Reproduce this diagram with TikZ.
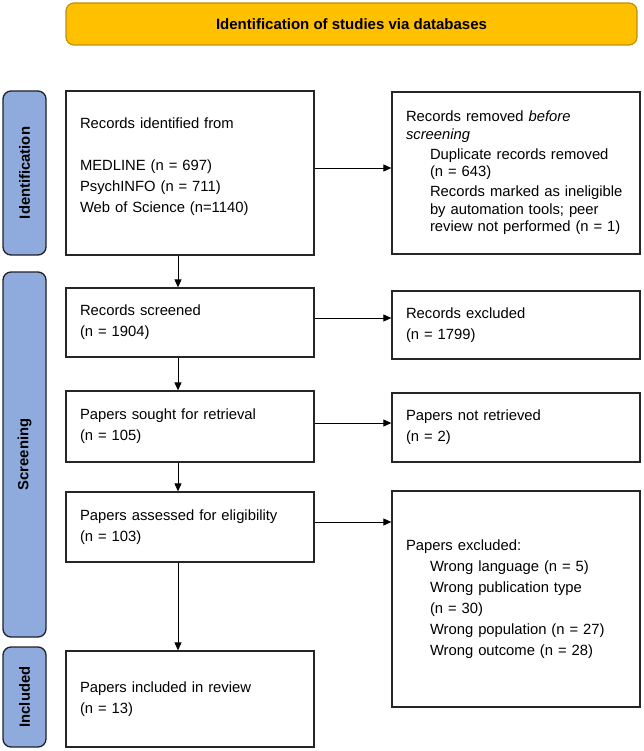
\documentclass[tikz,border=0pt]{standalone}
\usepackage{fontspec}
\setmainfont{Liberation Sans}
\usetikzlibrary{arrows.meta, positioning, calc}
\definecolor{prgold}{RGB}{255, 192, 0}
\definecolor{prgoldline}{RGB}{190, 145, 20}
\definecolor{prblue}{RGB}{143, 170, 220}
\definecolor{prline}{RGB}{30, 34, 40}
\newcommand{\prindent}{\hspace*{24pt}}

\begin{document}
\begin{tikzpicture}[x=1pt, y=-1pt, >={Triangle[length=8pt, width=7pt]},
  stagebar/.style={draw=prline, fill=prblue, line width=1.3pt,
    rounded corners=8pt, rotate=90, minimum height=43pt, inner sep=0pt,
    font=\fontsize{14.8}{17}\selectfont\bfseries},
  flowbox/.style={draw=black!85, line width=1.3pt, align=left,
    inner xsep=14pt, inner ysep=0pt, minimum width=248pt, text width=220pt,
    font=\fontsize{14.8}{21}\selectfont},
  flow/.style={->, line width=0.9pt}]

  \useasboundingbox (0,0) rectangle (644,751);

  % --- header ---
  \node[draw=prgoldline, fill=prgold, line width=1.2pt, rounded corners=8pt,
    minimum width=571pt, minimum height=42pt,
    font=\fontsize{15}{18}\selectfont\bfseries] (banner) at (351.5,24)
    {Identification of studies via databases};

  % --- stage bars ---
  \node[stagebar, minimum width=164pt] (idbar)  at (24.5,173)   {Identification};
  \node[stagebar, minimum width=365pt] (scrbar) at (24.5,454.5) {Screening};
  \node[stagebar, minimum width=100pt] (incbar) at (24.5,697)   {Included};

  % --- left column ---
  \node[flowbox, minimum height=164pt] (ident) at (190,173)
    {Records identified from\\[21pt]
     MEDLINE (n = 697)\\
     PsychINFO (n = 711)\\
     Web of Science (n=1140)\\[-6pt]\mbox{}};
  \node[flowbox, minimum height=69pt] (screened) at (190,322.5)
    {Records screened\\ (n = 1904)};
  \node[flowbox, minimum height=71pt] (sought) at (190,426.5)
    {Papers sought for retrieval\\ (n = 105)};
  \node[flowbox, minimum height=70pt] (assessed) at (190,527)
    {Papers assessed for eligibility\\ (n = 103)};
  \node[flowbox, minimum height=96pt] (included) at (190,699)
    {Papers included in review\\ (n = 13)};

  % --- right column ---
  \node[flowbox, minimum height=162pt,
    font=\fontsize{14.8}{17.5}\selectfont] (removed) at (516,173)
    {Records removed \textit{before}\\
     \textit{screening}\\[2.5pt]
     \prindent Duplicate records removed\\
     \prindent (n = 643)\\[2.5pt]
     \prindent Records marked as ineligible\\
     \prindent by automation tools; peer\\
     \prindent review not performed (n = 1)};
  \node[flowbox, minimum height=68pt] (excluded) at (516,325)
    {Records excluded\\ (n = 1799)};
  \node[flowbox, minimum height=69pt] (notretr) at (516,427.5)
    {Papers not retrieved\\ (n = 2)};
  \node[flowbox, minimum height=216pt] (paperexcl) at (516,599)
    {Papers excluded:\\
     \prindent Wrong language (n = 5)\\
     \prindent Wrong publication type\\
     \prindent (n = 30)\\
     \prindent Wrong population (n = 27)\\
     \prindent Wrong outcome (n = 28)};

  % --- sideways arrows ---
  \foreach \src/\dst/\dy in {ident/removed/-5, screened/excluded/-4.5,
                             sought/notretr/-3.5, assessed/paperexcl/-5}
  {
    \coordinate (\src-out) at ($(\src.east)+(0,\dy)$);
    \draw[flow] (\src-out) -- (\src-out -| \dst.west);
  }

  % --- downward arrows ---
  \foreach \src/\dst in {ident/screened, screened/sought,
                         sought/assessed, assessed/included}
  {
    \coordinate (\src-down) at ($(\src.south)+(-12,0)$);
    \draw[flow] (\src-down) -- (\src-down |- \dst.north);
  }

\end{tikzpicture}
\end{document}
